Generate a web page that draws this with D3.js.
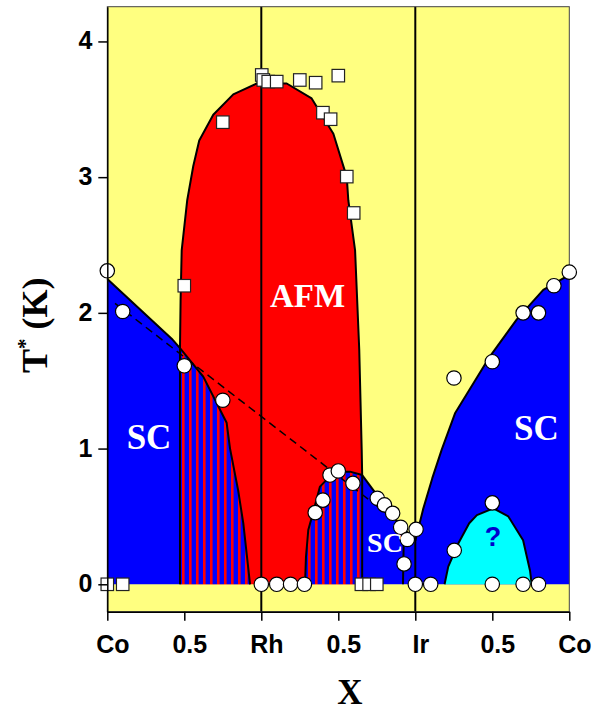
<!DOCTYPE html>
<html>
<head>
<meta charset="utf-8">
<script src="https://cdn.jsdelivr.net/npm/d3@7"></script>
<style>
  html, body { margin: 0; padding: 0; background: #ffffff; }
  svg { display: block; }
</style>
</head>
<body>
<svg id="chart" width="602" height="711"></svg>
<script>
// ---------------- DATA ----------------
const xTickValues = [0, 0.5, 1, 1.5, 2, 2.5, 3];
const xTickLabels = ["Co", "0.5", "Rh", "0.5", "Ir", "0.5", "Co"];
const xMinorTicks = [0.25, 0.75, 1.25, 1.75, 2.25, 2.75];
const yTickValues = [0, 1, 2, 3, 4];
const yMinorTicks = [0.5, 1.5, 2.5, 3.5];
const elementBoundaries = [1, 2]; // Rh and Ir

// AFM dome boundary (x, T*)
const afmBoundary = [[0.472,0],[0.472,1.74],[0.476,2.1],[0.483,2.46],[0.519,2.83],[0.558,3.08],[0.597,3.27],[0.688,3.46],[0.818,3.61],[0.97,3.69],[1.165,3.69],[1.327,3.58],[1.468,3.32],[1.555,3.00],[1.565,2.83],[1.609,2.46],[1.636,1.73],[1.652,0.99],[1.655,0.805],[1.655,0]];
// SC region Co-Rh
const scLeftLine = [[0,2.25],[0.418,1.81],[0.472,1.74],[0.623,1.53],[0.775,1.19],[0.797,1.0],[0.85,0.69],[0.883,0.45],[0.927,0]];
// SC dome inside AFM (Rh-Ir) and its continuation to Ir
const scMidLine = [[1.284,0],[1.29,0.2],[1.305,0.40],[1.338,0.535],[1.381,0.72],[1.467,0.82],[1.512,0.83],[1.576,0.83],[1.655,0.805],[1.749,0.66],[1.879,0.47],[1.966,0.36],[2.0,0.32]];
const scMidStep = [[1.92,0],[1.925,0.33]];
// SC region Ir-Co
const scRightLine = [[2.0,0.32],[2.05,0.55],[2.11,0.78],[2.171,0.99],[2.258,1.26],[2.485,1.68],[2.658,1.95],[2.831,2.17],[3.0,2.28]];
// unknown "?" dome
const unknownDome = [[2.19,0],[2.214,0.13],[2.279,0.30],[2.35,0.45],[2.40,0.51],[2.507,0.56],[2.604,0.50],[2.70,0.325],[2.745,0.10],[2.756,0]];
// dashed guide line
const dashedLine = [[0.05,2.07],[1.93,0.42]];

// measured points
const circlePoints = [[0,2.31],[0.10,2.01],[0.50,1.61],[0.75,1.356],
  [1.00,0],[1.10,0],[1.19,0],[1.28,0],
  [1.35,0.528],[1.40,0.62],[1.446,0.805],[1.50,0.835],[1.595,0.744],[1.753,0.634],[1.80,0.585],[1.853,0.523],[1.905,0.42],[1.948,0.33],[2.005,0.405],[1.927,0.15],
  [2.00,0],[2.10,0],[2.50,0],[2.70,0],[2.80,0],
  [2.253,0.25],[2.50,0.60],
  [2.251,1.52],[2.50,1.64],[2.70,2.00],[2.80,2.00],[2.90,2.20],[3.00,2.30]];
const squarePoints = [[0,0],[0.1,0],[1.65,0],[1.70,0],[1.75,0],
  [0.50,2.20],[0.75,3.405],[1.003,3.753],[1.013,3.716],[1.045,3.704],[1.10,3.704],[1.25,3.716],[1.353,3.696],[1.50,3.748],[1.40,3.475],[1.45,3.427],[1.555,3.004],[1.60,2.736]];

// ---------------- DRAWING ----------------
const YELLOW = "#ffff80", RED = "#ff0000", BLUE = "#0000ff", CYAN = "#00ffff";
const svg = d3.select("#chart");
const pL = 107.3, pR = 569.3, pT = 6.7, pB = 611.7;
const x = d3.scaleLinear().domain([0, 3]).range([pL, pR]);
const y = d3.scaleLinear().domain([-0.202, 4.256]).range([pB, pT]);

const defs = svg.append("defs");
const pat = defs.append("pattern").attr("id", "stripes")
  .attr("patternUnits", "userSpaceOnUse").attr("width", 7).attr("height", 10)
  .attr("x", x(0.472) + 2);
pat.append("rect").attr("width", 7).attr("height", 10).attr("fill", BLUE);
pat.append("rect").attr("width", 2.6).attr("height", 10).attr("fill", RED);

const line = d3.line().x(d => x(d[0])).y(d => y(d[1]));

// background
svg.append("rect").attr("x", pL).attr("y", pT).attr("width", pR - pL).attr("height", pB - pT).attr("fill", YELLOW);

const regions = svg.append("g");
regions.append("path").attr("d", line(afmBoundary) + "Z").attr("fill", RED);
const scLeftArea = [[0,0]].concat(scLeftLine.slice(0, 3)).concat([[0.472,0]]);
regions.append("path").attr("d", line(scLeftArea) + "Z").attr("fill", BLUE);
const stripeLeft = [[0.472,0]].concat(scLeftLine.slice(2));
regions.append("path").attr("d", line(stripeLeft) + "Z").attr("fill", "url(#stripes)");
const stripeMid = scMidLine.slice(0, 9).concat([[1.655,0]]);
regions.append("path").attr("d", line(stripeMid) + "Z").attr("fill", "url(#stripes)");
const scMidArea = [[1.655,0]].concat(scMidLine.slice(8)).concat([[2.0,0]]);
regions.append("path").attr("d", line(scMidArea) + "Z").attr("fill", BLUE);
const scRightArea = [[2.0,0]].concat(scRightLine).concat([[3,0]]);
regions.append("path").attr("d", line(scRightArea) + "Z").attr("fill", BLUE);
regions.append("path").attr("d", line(unknownDome) + "Z").attr("fill", CYAN);

// boundary lines
const bl = svg.append("g").attr("fill", "none").attr("stroke", "#000").attr("stroke-width", 2).attr("stroke-linejoin", "round");
[afmBoundary, scLeftLine, scMidLine, scMidStep, scRightLine, unknownDome].forEach(pts => {
  bl.append("path").attr("d", line(pts));
});

// element separators
svg.append("g").selectAll("line").data(elementBoundaries).join("line")
  .attr("x1", d => x(d)).attr("x2", d => x(d)).attr("y1", pT).attr("y2", pB)
  .attr("stroke", "#000").attr("stroke-width", 2);

// dashed line
svg.append("path").attr("d", line(dashedLine)).attr("fill", "none")
  .attr("stroke", "#000").attr("stroke-width", 1.5).attr("stroke-dasharray", "8,5");

// frame
svg.append("rect").attr("x", pL).attr("y", pT).attr("width", pR - pL).attr("height", pB - pT)
  .attr("fill", "none").attr("stroke", "#444").attr("stroke-width", 1);

// markers
svg.append("g").selectAll("circle").data(circlePoints).join("circle")
  .attr("cx", d => x(d[0])).attr("cy", d => y(d[1])).attr("r", 7.2)
  .attr("fill", "#fff").attr("stroke", "#000").attr("stroke-width", 1.2);
const sq = 12.5;
svg.append("g").selectAll("rect").data(squarePoints).join("rect")
  .attr("x", d => x(d[0]) - sq / 2).attr("y", d => y(d[1]) - sq / 2).attr("width", sq).attr("height", sq)
  .attr("fill", "#fff").attr("stroke", "#222").attr("stroke-width", 1.2);

// region labels
const serif = "'Liberation Serif', 'Times New Roman', serif";
const sans = "'Liberation Sans', Arial, sans-serif";
function label(txt, xv, yv, size, color, family) {
  svg.append("text").attr("x", x(xv)).attr("y", y(yv)).attr("text-anchor", "middle")
    .attr("font-family", family).attr("font-weight", "bold").attr("font-size", size)
    .attr("fill", color).text(txt);
}
label("AFM", 1.30, 2.04, 33, "#fff", serif);
label("SC", 0.271, 0.997, 35, "#fff", serif);
label("SC", 2.787, 1.063, 35, "#fff", serif);
label("SC", 1.803, 0.238, 28, "#fff", serif);
label("?", 2.504, 0.282, 27, "#0000cc", sans);

// axes
const xAxisG = svg.append("g").attr("transform", `translate(0,${pB})`);
xAxisG.call(d3.axisBottom(x).tickValues(xMinorTicks).tickSize(5).tickFormat(""));
xAxisG.call(d3.axisBottom(x).tickValues(xTickValues).tickSize(9).tickSizeOuter(0)
  .tickFormat((d, i) => xTickLabels[i]));
xAxisG.selectAll("path.domain").attr("stroke", "#000").attr("stroke-width", 1.5);
xAxisG.selectAll(".tick line").attr("stroke", "#000").attr("stroke-width", 1.5);
xAxisG.selectAll(".tick text").attr("font-family", sans).attr("font-weight", "bold")
  .attr("font-size", 25).attr("fill", "#000").attr("dx", 5).attr("dy", 0).attr("y", 41.5);

const yAxisG = svg.append("g").attr("transform", `translate(${pL},0)`);
yAxisG.call(d3.axisLeft(y).tickValues(yMinorTicks).tickSize(5).tickFormat(""));
yAxisG.call(d3.axisLeft(y).tickValues(yTickValues).tickSize(9).tickSizeOuter(0).tickFormat(d3.format("d")));
yAxisG.selectAll("path.domain").attr("stroke", "#000").attr("stroke-width", 1.5);
yAxisG.selectAll(".tick line").attr("stroke", "#000").attr("stroke-width", 1.5);
yAxisG.selectAll(".tick text").attr("font-family", sans).attr("font-weight", "bold")
  .attr("font-size", 25).attr("fill", "#000").attr("x", -15).attr("dy", "0.3em");

// axis titles
const yTitle = svg.append("text").attr("transform", "translate(47,373) rotate(-90)")
  .attr("font-family", serif).attr("font-weight", "bold").attr("font-size", 36).attr("fill", "#000");
yTitle.append("tspan").text("T");
yTitle.append("tspan").attr("font-size", 21).attr("dy", -15).text("*");
yTitle.append("tspan").attr("dy", 15).text(" (K)");

svg.append("text").attr("x", 350).attr("y", 704).attr("text-anchor", "middle")
  .attr("font-family", serif).attr("font-weight", "bold").attr("font-size", 35).attr("fill", "#000").text("X");
</script>
</body>
</html>
